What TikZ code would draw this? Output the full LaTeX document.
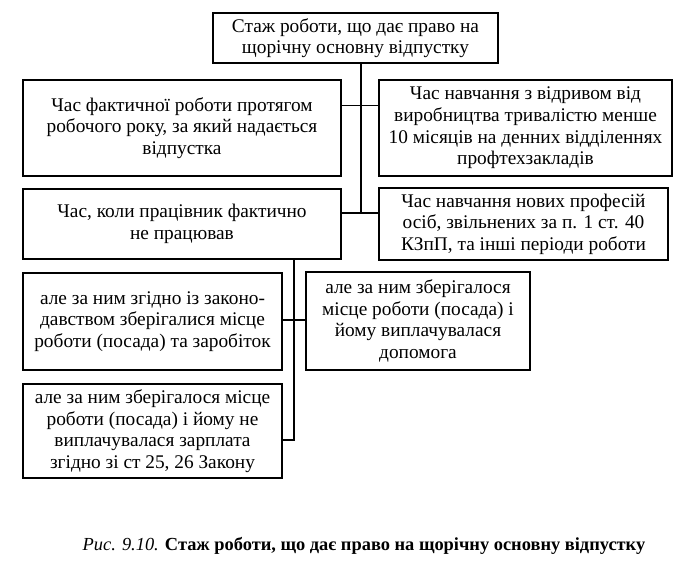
\documentclass[tikz,border=0pt]{standalone}
\usepackage{fontspec}
\setmainfont{Liberation Serif}
\newfontfamily\uaserif{Liberation Serif}
\usetikzlibrary{positioning}

\begin{document}
\begin{tikzpicture}[x=0.75pt,y=-0.75pt,
  sbox/.style={rectangle,draw,line width=1.4pt,align=center,inner sep=0pt,
               font=\uaserif\fontsize{14.5}{16.2}\selectfont},
  link/.style={line width=1.4pt}]
\useasboundingbox (0,0) rectangle (691,566);
\node[sbox,minimum width=213.75pt,minimum height=37.5pt] (top) at (355.5,38)  {Стаж роботи, що дає право на\\щорічну основну відпустку};
\node[sbox,minimum width=238.5pt,minimum height=72pt]    (L1)  at (182,128)   {Час фактичної роботи протягом\\робочого року, за який надається\\відпустка};
\node[sbox,minimum width=219.75pt,minimum height=72pt]   (R1)  at (525.5,128) {Час навчання з відривом від\\виробництва тривалістю менше\\10 місяців на денних відділеннях\\профтехзакладів};
\node[sbox,minimum width=238.5pt,minimum height=52.5pt]  (L2)  at (182,224)   {Час, коли працівник фактично\\не працював};
\node[sbox,minimum width=216.75pt,minimum height=54pt]   (R2)  at (523.5,224) {Час навчання нових професій\\осіб, звільнених за п. 1 ст. 40\\КЗпП, та інші періоди роботи};
\node[sbox,minimum width=194.25pt,minimum height=72.75pt] (A)  at (152.5,321.5) {але за ним згідно із законо-\\давством зберігалися місце\\роботи (посада) та заробіток};
\node[sbox,minimum width=194.25pt,minimum height=70.5pt] (B)   at (152.5,431) {але за ним зберігалося місце\\роботи (посада) і йому не\\виплачувалася зарплата\\згідно зі ст 25, 26 Закону};
\node[sbox,minimum width=168pt,minimum height=73.5pt]    (C)   at (418,321)   {але за ним зберігалося\\місце роботи (посада) і\\йому виплачувалася\\допомога};
\node[font=\uaserif\fontsize{13.8}{16}\selectfont] (cap) at (364,546) {\textit{Рис. 9.10.} \textbf{Стаж роботи, що дає право на щорічну основну відпустку}};
\coordinate (t1) at (361,105);
\coordinate (t2) at (361,213);
\coordinate (b1) at (294,320);
\coordinate (b2) at (294,440);
\draw[link] (top.south -| t2) -- (t2);
\draw[line width=0.7pt] (L1.east |- t1) -- (R1.west |- t1);
\draw[link] (L2.east |- t2) -- (R2.west |- t2);
\draw[link] (L2.south -| b2) -- (b2) -- (B.east |- b2);
\draw[link] (A.east |- b1) -- (C.west |- b1);
\end{tikzpicture}
\end{document}
